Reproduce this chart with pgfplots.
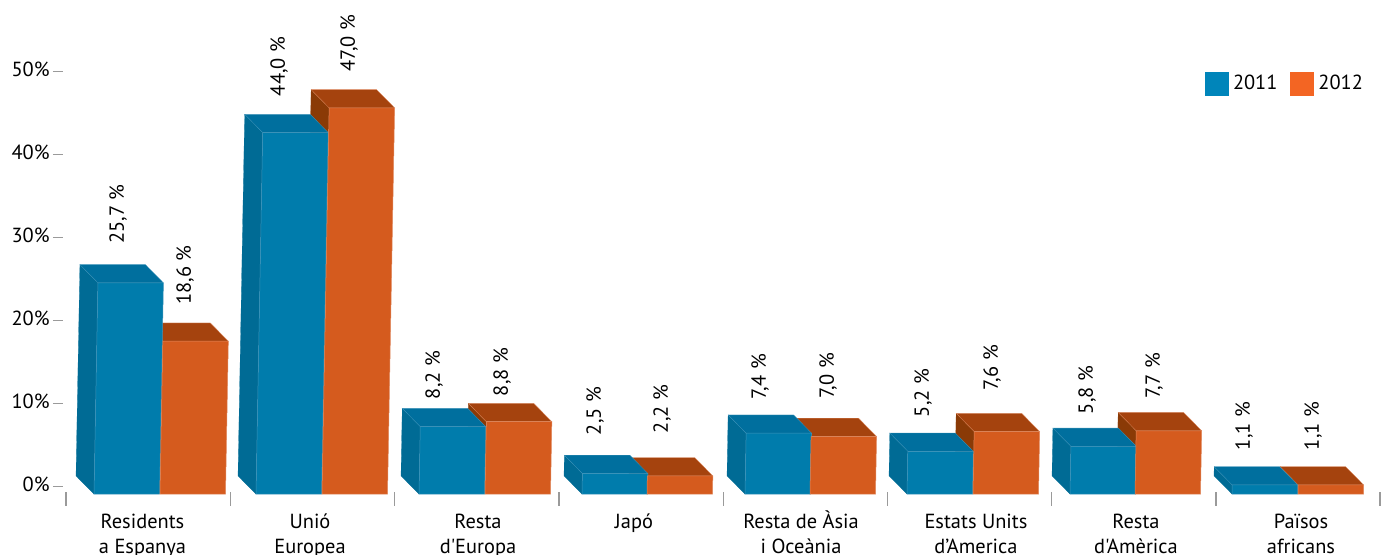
\documentclass[border=0pt]{standalone}
\usepackage{fontspec}
\setmainfont{PT Sans}[Ligatures=TeXOff]
\usepackage{pgfplots}
\pgfplotsset{compat=1.18}
\definecolor{bfront}{HTML}{007CAC}
\definecolor{btop}{HTML}{006F9E}
\definecolor{bside}{HTML}{006B95}
\definecolor{bedge}{HTML}{3F94BA}
\definecolor{ofront}{HTML}{D55B1E}
\definecolor{otop}{HTML}{A5430E}
\definecolor{oside}{HTML}{8A3A06}
\definecolor{oedge}{HTML}{E08A60}
\definecolor{legb}{HTML}{0085BA}
\definecolor{lego}{HTML}{F36523}
\definecolor{tickc}{HTML}{9A9A9A}
% x in reference pixels, y in percent; #1 front-left x at the base, #2 value
\newcommand{\setbar}[2]{%
  \pgfmathsetmacro{\hpx}{#2*8.215}%
  \pgfmathsetmacro{\xa}{#1}%
  \pgfmathsetmacro{\xb}{#1+65.5}%
  \pgfmathsetmacro{\xat}{#1+\hpx*0.0185}%
  \pgfmathsetmacro{\xbt}{#1+65.5+\hpx*0.0185}%
  \pgfmathsetmacro{\xc}{\xa-18}%
  \pgfmathsetmacro{\xct}{\xat-18}%
  \pgfmathsetmacro{\xdt}{\xbt-18}%
  \pgfmathsetmacro{\ytop}{-0.88+\hpx/8.3}%
  \pgfmathsetmacro{\ytopb}{\ytop+2.2}%
  \pgfmathsetmacro{\ybaseb}{-0.88+2.17}%
}
\newcommand{\barback}[5]{%
  \setbar{#1}{#2}%
  \addplot[fill=#4,draw=#4,line width=.1pt,forget plot] coordinates {(\xa,-0.88) (\xc,\ybaseb) (\xct,\ytopb) (\xat,\ytop)} --cycle;
  \addplot[fill=#3,draw=#5,line width=.15pt,forget plot] coordinates {(\xat,\ytop) (\xct,\ytopb) (\xdt,\ytopb) (\xbt,\ytop)} --cycle;
}
\newcommand{\barfront}[4]{%
  \setbar{#1}{#2}%
  \addplot[fill=#3,draw=#4,line width=.25pt,forget plot] coordinates {(\xa,-0.88) (\xat,\ytop) (\xbt,\ytop) (\xb,-0.88)} --cycle;
}
\newcommand{\blueback}[2]{\barback{#1}{#2}{btop}{bside}{bedge}}
\newcommand{\orangeback}[2]{\barback{#1}{#2}{otop}{oside}{oedge}}
\newcommand{\bluefront}[2]{\barfront{#1}{#2}{bfront}{bedge}}
\newcommand{\orangefront}[2]{\barfront{#1}{#2}{ofront}{oedge}}
\newcommand{\group}[4]{\orangeback{#3}{#4}\blueback{#1}{#2}\bluefront{#1}{#2}\orangefront{#3}{#4}}
\newcommand{\vlab}[3]{\node[rotate=90,anchor=center,inner sep=0pt,font=\fontsize{10.2}{12}\selectfont] at (axis cs:#1,{(486.7-#2)/8.3}) {#3};}
\begin{document}
\begin{tikzpicture}
\path[use as bounding box] (-31.5pt,-31pt) rectangle (665.5pt,246pt);
\begin{axis}[
  scale only axis, width=665.5pt, height=246pt,
  xmin=63, xmax=1394, ymin=-0.639, ymax=58.64,
  clip=false,
  axis x line*=bottom, axis y line*=left,
  axis line style={draw=none},
  tick align=outside,
  major tick length=5pt,
  ytick={0,10,20,30,40,50},
  yticklabels={0\%,10\%,20\%,30\%,40\%,50\%},
  ytick style={draw=tickc,line width=.6pt},
  yticklabel style={font=\fontsize{10.2}{12}\selectfont,inner sep=0pt,xshift=-1.5pt,yshift=1pt},
  xtick={142.5,310,478,634,801,976,1136,1301},
  xticklabels={{\strut Residents\\a Espanya},{\strut Unió\\Europea},{\strut Resta\\d'Europa},{\strut Japó},{\strut Resta de Àsia\\i Oceània},{\strut Estats Units\\d’America},{\strut Resta\\d'Amèrica},{\strut Països\\africans}},
  xtick style={draw=none},
  xticklabel style={font=\fontsize{10.2}{12.6}\selectfont,align=center,anchor=north,inner sep=0pt,yshift=-4pt},
  extra x ticks={66,230.3,394.6,558.9,723.2,887.5,1051.8,1216,1380},
  extra x tick labels={},
  extra x tick style={major tick length=6.85pt,xtick style={draw=tickc,line width=.6pt}},
  legend columns=2,
  legend style={at={(axis cs:1205,50.1)},anchor=north west,draw=none,fill=none,inner sep=0pt,outer sep=0pt,font=\fontsize{10.2}{12}\selectfont,/tikz/every even column/.append style={column sep=4.5pt}},
  legend cell align=left,
  legend image code/.code={\fill[draw=none,#1] (0pt,-6pt) rectangle (12pt,6pt);},
]
\addlegendimage{fill=legb,draw=none}
\addlegendentry{2011}
\addlegendimage{fill=lego,draw=none}
\addlegendentry{2012}
% each group: 2011 left x, 2011 value, 2012 left x, 2012 value
\group{94}{25.7}{160}{18.6}
\group{256}{44.0}{322}{47.0}
\group{419}{8.2}{485}{8.8}
\group{582}{2.5}{647}{2.2}
\group{745}{7.4}{810}{7.0}
\group{907}{5.2}{973}{7.6}
\group{1070}{5.8}{1135}{7.7}
\group{1232}{1.1}{1298}{1.1}
\vlab{118}{214}{25,7 \%}
\vlab{185}{275}{18,6 \%}
\vlab{279}{66.5}{44,0 \%}
\vlab{349}{43.5}{47,0 \%}
\vlab{434}{375}{8,2 \%}
\vlab{502}{372}{8,8 \%}
\vlab{595}{411}{2,5 \%}
\vlab{662}{409}{2,2 \%}
\vlab{760}{377}{7,4 \%}
\vlab{828}{376}{7,0 \%}
\vlab{923}{393}{5,2 \%}
\vlab{992}{368}{7,6 \%}
\vlab{1087}{390}{5,8 \%}
\vlab{1154}{376}{7,7 \%}
\vlab{1244}{426}{1,1 \%}
\vlab{1313}{426}{1,1 \%}
\end{axis}
\end{tikzpicture}
\end{document}
